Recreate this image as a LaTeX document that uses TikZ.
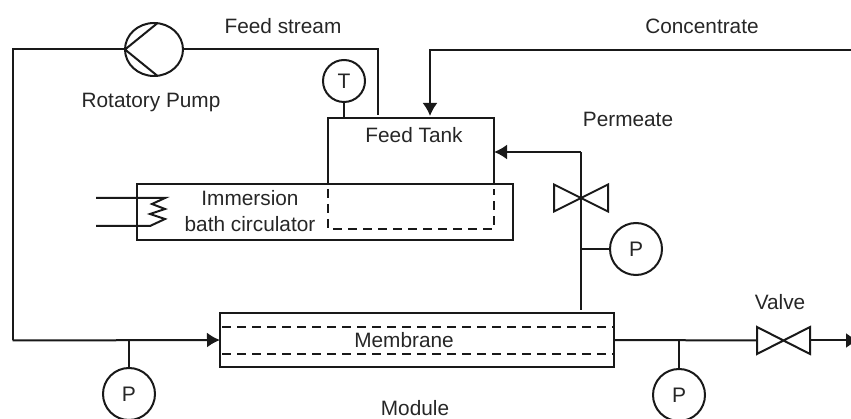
\documentclass[tikz,border=0pt]{standalone}
\usepackage{fontspec}
\setmainfont{Liberation Sans}
\usetikzlibrary{arrows.meta,calc,shapes.geometric}
\tikzset{
  pipe/.style={line width=2pt,draw=black!90},
  flow/.style={pipe,-{Latex[length=13pt,width=15pt]}},
  dash line/.style={line width=2pt,draw=black!90,dash pattern=on 9pt off 6pt},
  box/.style={draw=black!90,line width=2pt,rectangle,inner sep=0pt,outer sep=0pt},
  gauge/.style={draw=black!90,line width=2pt,circle,minimum size=52pt,inner sep=0pt,outer sep=0pt,font=\fontsize{21}{23}\selectfont,text=black!85},
  lab/.style={inner sep=0pt,outer sep=0pt,font=\fontsize{20.8}{26}\selectfont,text=black!85,align=center},
}
\begin{document}
\begin{tikzpicture}[x=1pt,y=-1pt]
\useasboundingbox (0,0) rectangle (851,419);
% boxes
\node[box,minimum width=376pt,minimum height=56pt] (bath) at (325,212) {};
\node[box,minimum width=166pt,minimum height=66pt] (tank) at (411,151) {};
\node[box,minimum width=394pt,minimum height=54pt] (module) at (417,340) {};
% gauges
\node[gauge,minimum size=42pt] (T) at (344,81) {T};
\node[gauge] (P1) at (636,249) {P};
\node[gauge] (P2) at (129,394) {P};
\node[gauge] (P3) at (679,395) {P};
% pump
\node[draw=black!90,line width=2pt,ellipse,minimum width=58pt,minimum height=53pt,inner sep=0pt,outer sep=0pt] (pump) at (154,49.5) {};
\draw[pipe,line join=round] (157,23.5) -- (pump.west) -- (157,75.5);
% valves
\coordinate (V1) at (581,198);
\coordinate (V2) at (783.5,340.5);
\draw[pipe,line join=miter] (V1) -- ++(-27,-13.5) -- ++(0,27) -- (V1) -- ++(27,-13.5) -- ++(0,27) -- cycle;
\draw[pipe,line join=miter] (V2) -- ++(-26.5,-13.5) -- ++(0,27) -- (V2) -- ++(26.5,-13.5) -- ++(0,27) -- cycle;
% free ends
\coordinate (L) at (12.5,50);
\coordinate (L2) at (12.5,340.5);
\coordinate (feedtop) at (378,50);
\coordinate (feedend) at (378,115);
\coordinate (concR) at (851,50);
\coordinate (concC) at (430,50);
\coordinate (concEnd) at (430,116);
\coordinate (permTop) at (581,152);
\coordinate (permBot) at (581,310);
\coordinate (outEnd) at (859,340.5);
\coordinate (outV) at (810,340.5);
\coordinate (V2in) at (757,340.5);
\coordinate (stem2) at (129,340.5);
\coordinate (stem3) at (679,340.5);
\coordinate (stem1) at (581,249);
% connectors
\draw[pipe,line join=miter] (pump.west) -- (pump.west -| L) -- (L2);
\draw[flow] (L2) -- (module.west);
\draw[pipe,line join=miter] (pump.east) -- (pump.east -| feedtop) -- (feedend);
\draw[flow,line join=miter] (concR) -- (concC) -- (concEnd);
\draw[pipe] (permBot) -- (permTop);
\draw[flow] (permTop) -- (tank.east |- permTop);
\draw[pipe] (module.east) -- (V2in);
\draw[flow] (outV) -- (outEnd);
\draw[pipe] (T.south) -- (T.south |- tank.north);
\draw[pipe] (stem1) -- (P1.west);
\draw[pipe] (stem2) -- (P2.north);
\draw[pipe] (stem3) -- (P3.north);
% heater
\draw[pipe,line join=miter] (96,198) -- (165,198) -- (152,204) -- (165,209) -- (150,214) -- (165,219) -- (150,226) -- (96,226);
% dashed
\draw[dash line] (328,189) -- (328,229) -- (494,229) -- (494,189);
\draw[dash line] (222,327) -- (613,327);
\draw[dash line] (222,354) -- (613,354);
% labels
\node[lab] (t1) at (283,26) {Feed stream};
\node[lab] (t2) at (702,26) {Concentrate};
\node[lab] (t3) at (151,103) {Rotatory Pump};
\node[lab] (t4) at (414,135) {Feed Tank};
\node[lab] (t5) at (628,119) {Permeate};
\node[lab] (t6) at (250,211) {Immersion\\bath circulator};
\node[lab] (t7) at (404,340) {Membrane};
\node[lab] (t8) at (780,302) {Valve};
\node[lab] (t9) at (415,408) {Module};
\end{tikzpicture}
\end{document}
